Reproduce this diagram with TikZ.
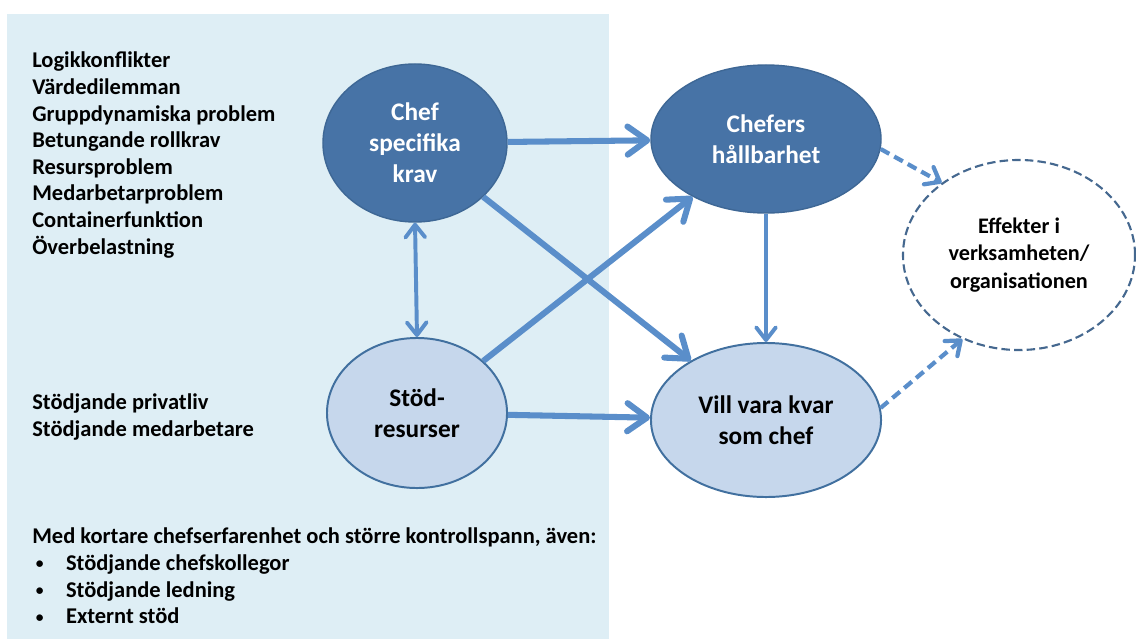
\documentclass[tikz,border=0pt]{standalone}
\usepackage{fontspec}
\setmainfont{Carlito}
\usetikzlibrary{shapes.geometric,arrows.meta}
\definecolor{bgblue}{HTML}{DEEEF5}
\definecolor{darkfill}{HTML}{4773A6}
\definecolor{darkline}{HTML}{3E6795}
\definecolor{lightfill}{HTML}{C6D7EC}
\definecolor{lightline}{HTML}{41709F}
\definecolor{arrowblue}{HTML}{5A8ECA}
\definecolor{dashline}{HTML}{45688F}
\newcommand{\listdot}{\makebox[24pt][l]{\hspace{2.5pt}\raisebox{1.2pt}{\fontsize{11}{11}\selectfont •}}}
\tikzset{
  bigbarb/.tip={Straight Barb[length=14pt,width=20pt,round]},
  thinbarb/.tip={Straight Barb[length=9pt,width=14pt,round]},
  darkell/.style={ellipse,fill=darkfill,draw=darkline,line width=1pt,text=white,align=center,inner sep=0pt,font=\fontsize{18}{22}\selectfont\bfseries},
  lightell/.style={ellipse,fill=lightfill,draw=lightline,line width=1.4pt,text=black,align=center,inner sep=0pt,font=\fontsize{18}{22}\selectfont\bfseries},
  effell/.style={ellipse,draw=dashline,line width=1.5pt,dash pattern=on 6pt off 3pt,align=center,inner sep=0pt,font=\fontsize{15.8}{19.6}\selectfont\bfseries},
  bigarrow/.style={arrowblue,line width=4.3pt,-bigbarb},
  thinarrow/.style={arrowblue,line width=2.8pt,-thinbarb},
  dasharrow/.style={thinarrow,line width=3pt,dash pattern=on 7pt off 4pt},
  listtext/.style={anchor=west,align=left,inner sep=0pt,font=\fontsize{16}{18.9}\selectfont\bfseries}
}
\begin{document}
\begin{tikzpicture}[x=0.025cm,y=-0.025cm]
  \useasboundingbox (0,0) rectangle (1136,639);
  \fill[bgblue] (7,14) rectangle (609,639);

  \node (krav) at (415,143)[darkell,minimum width=4.6cm,minimum height=3.95cm]{Chef\\specifika\\krav};
  \node (hallbar) at (766,139)[darkell,minimum width=5.75cm,minimum height=3.7cm]{Chefers\\hållbarhet};
  \node (stod) at (417,413)[lightell,minimum width=4.5cm,minimum height=3.75cm]{Stöd-\\resurser};
  \node (kvar) at (766,420)[lightell,minimum width=5.75cm,minimum height=3.85cm]{Vill vara kvar\\som chef};
  \node (effekt) at (1019,255)[effell,minimum width=5.8cm,minimum height=4.75cm]{Effekter i\\verksamheten/\\organisationen};

  \node (kravlist) at (32,155)[listtext]{Logikkonflikter\\Värdedilemman\\Gruppdynamiska problem\\Betungande rollkrav\\Resursproblem\\Medarbetarproblem\\Containerfunktion\\Överbelastning};
  \node (stodlist) at (32,417)[listtext]{Stödjande privatliv\\Stödjande medarbetare};
  \node (extralist) at (32,576)[listtext]{Med kortare chefserfarenhet och större kontrollspann, även:\\
    \listdot Stödjande chefskollegor\\
    \listdot Stödjande ledning\\
    \listdot Externt stöd};

  \draw[bigarrow] (krav) -- (hallbar);
  \draw[bigarrow] (krav) -- (kvar);
  \draw[bigarrow] (stod) -- (hallbar);
  \draw[bigarrow] (stod) -- (kvar);
  \draw[thinarrow,thinbarb-thinbarb] (krav.south) -- (stod.north);
  \draw[thinarrow] (hallbar.south) -- (kvar.north);
  \draw[dasharrow] (hallbar.-5) -- (effekt.137);
  \draw[dasharrow] (kvar.6) -- (effekt.236);
\end{tikzpicture}
\end{document}
